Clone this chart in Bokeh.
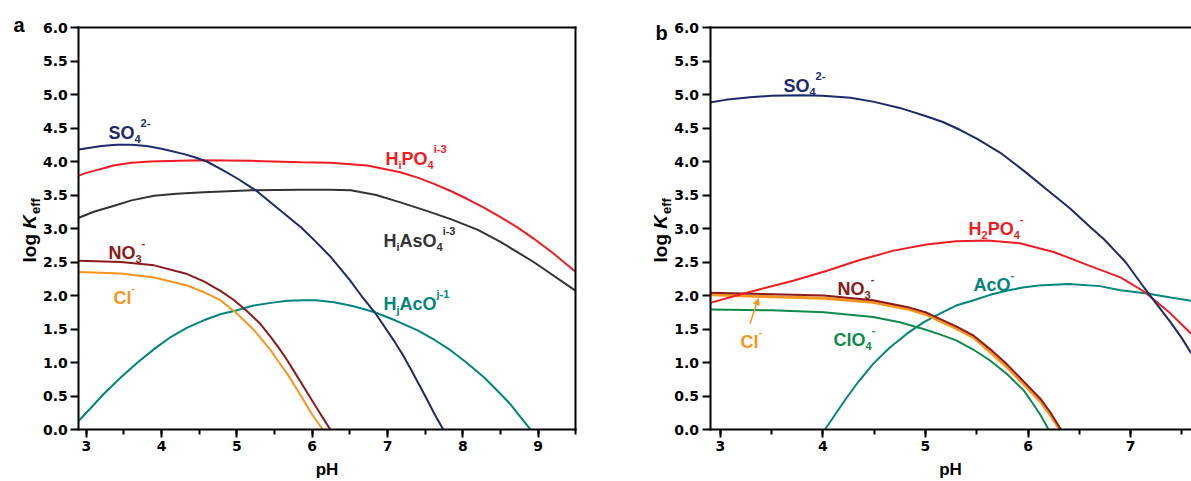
import math
from bokeh.plotting import figure
from bokeh.models import Range1d, Label, Arrow, NormalHead, FixedTicker, SingleIntervalTicker, PrintfTickFormatter, LinearAxis
from bokeh.layouts import row
from bokeh.embed import file_html
from bokeh.resources import INLINE

# ---------------- data: panel a ----------------
ph_so4_a = [2.9, 3.2, 3.4, 3.6, 3.8, 4.0, 4.3, 4.45, 4.6, 4.8, 5.0, 5.25, 5.5, 5.85, 6.05, 6.25, 6.5, 6.65, 6.83, 7.1, 7.2, 7.31, 7.5, 7.62, 7.74]
so4_a = [4.18, 4.23, 4.25, 4.25, 4.23, 4.19, 4.11, 4.06, 4.0, 3.88, 3.75, 3.57, 3.34, 3.02, 2.8, 2.57, 2.23, 2.0, 1.75, 1.3, 1.12, 0.9, 0.5, 0.24, 0.0]

ph_po4_a = [2.9, 3.0, 3.1, 3.23, 3.36, 3.6, 3.85, 4.5, 5.2, 5.85, 6.24, 6.73, 7.17, 7.4, 7.61, 7.84, 8.06, 8.28, 8.5, 8.72, 8.94, 9.2, 9.5]
po4_a = [3.79, 3.83, 3.86, 3.9, 3.94, 3.98, 4.0, 4.02, 4.01, 3.99, 3.98, 3.94, 3.84, 3.76, 3.67, 3.56, 3.44, 3.31, 3.17, 3.02, 2.85, 2.63, 2.35]

ph_aso4_a = [2.9, 3.1, 3.37, 3.6, 3.9, 4.2, 4.56, 5.2, 5.85, 6.24, 6.51, 6.85, 7.17, 7.5, 7.84, 8.2, 8.5, 8.94, 9.5]
aso4_a = [3.16, 3.25, 3.34, 3.42, 3.49, 3.52, 3.54, 3.57, 3.58, 3.58, 3.57, 3.5, 3.39, 3.27, 3.14, 2.98, 2.8, 2.5, 2.07]

ph_aco_a = [2.9, 3.05, 3.23, 3.45, 3.68, 3.9, 4.12, 4.34, 4.56, 4.78, 5.0, 5.22, 5.45, 5.67, 5.89, 6.05, 6.29, 6.55, 6.83, 7.1, 7.4, 7.62, 7.84, 8.06, 8.28, 8.45, 8.63, 8.77, 8.9]
aco_a = [0.13, 0.31, 0.53, 0.77, 1.0, 1.2, 1.38, 1.52, 1.63, 1.72, 1.78, 1.85, 1.89, 1.92, 1.93, 1.93, 1.9, 1.84, 1.75, 1.63, 1.48, 1.34, 1.18, 0.99, 0.78, 0.59, 0.38, 0.18, 0.0]

ph_no3_a = [2.9, 3.46, 3.9, 4.34, 4.56, 4.78, 4.95, 5.12, 5.3, 5.45, 5.56, 5.67, 5.78, 5.89, 6.0, 6.11, 6.24]
no3_a = [2.52, 2.5, 2.45, 2.32, 2.21, 2.07, 1.94, 1.78, 1.59, 1.38, 1.21, 1.03, 0.83, 0.63, 0.43, 0.23, 0.0]

ph_cl_a = [2.9, 3.46, 3.9, 4.34, 4.56, 4.78, 5.0, 5.12, 5.23, 5.34, 5.45, 5.56, 5.67, 5.78, 5.89, 6.0, 6.14]
cl_a = [2.35, 2.33, 2.27, 2.15, 2.05, 1.93, 1.73, 1.6, 1.48, 1.33, 1.18, 1.0, 0.83, 0.63, 0.43, 0.22, 0.0]

# ---------------- data: panel b ----------------
ph_so4_b = [2.9, 3.05, 3.29, 3.5, 3.78, 4.0, 4.27, 4.5, 4.75, 5.0, 5.17, 5.34, 5.5, 5.73, 5.96, 6.2, 6.41, 6.6, 6.74, 6.95, 7.13, 7.25, 7.39, 7.5, 7.59]
so4_b = [4.88, 4.92, 4.96, 4.98, 4.99, 4.98, 4.95, 4.89, 4.8, 4.68, 4.59, 4.47, 4.34, 4.13, 3.86, 3.56, 3.3, 3.03, 2.84, 2.5, 2.12, 1.88, 1.6, 1.36, 1.14]

ph_h2po4_b = [2.9, 3.23, 3.71, 4.04, 4.36, 4.69, 5.01, 5.3, 5.6, 5.92, 6.25, 6.57, 6.9, 7.13, 7.39, 7.59]
h2po4_b = [1.89, 2.03, 2.22, 2.37, 2.53, 2.67, 2.76, 2.81, 2.82, 2.78, 2.65, 2.46, 2.27, 2.06, 1.73, 1.43]

ph_aco_b = [4.02, 4.1, 4.23, 4.35, 4.49, 4.65, 4.82, 4.98, 5.14, 5.3, 5.47, 5.63, 5.79, 5.95, 6.1, 6.4, 6.7, 6.9, 7.16, 7.39, 7.59]
aco_b = [0.0, 0.18, 0.47, 0.72, 0.98, 1.22, 1.43, 1.6, 1.73, 1.85, 1.93, 2.01, 2.07, 2.12, 2.15, 2.17, 2.14, 2.08, 2.03, 1.97, 1.92]

ph_no3_b = [2.9, 3.52, 4.01, 4.49, 4.82, 5.0, 5.14, 5.3, 5.47, 5.63, 5.79, 5.95, 6.12, 6.22, 6.32]
no3_b = [2.04, 2.02, 2.0, 1.93, 1.83, 1.75, 1.65, 1.54, 1.4, 1.2, 0.98, 0.73, 0.46, 0.25, 0.0]

ph_cl_b = [2.9, 3.52, 4.01, 4.49, 4.82, 5.0, 5.14, 5.3, 5.47, 5.63, 5.79, 5.95, 6.12, 6.22, 6.31]
cl_b = [2.01, 1.98, 1.96, 1.9, 1.8, 1.72, 1.62, 1.51, 1.37, 1.16, 0.94, 0.69, 0.42, 0.21, 0.0]

ph_clo4_b = [2.9, 3.5, 4.01, 4.49, 4.75, 4.98, 5.14, 5.3, 5.47, 5.63, 5.8, 5.96, 6.05, 6.12, 6.2]
clo4_b = [1.79, 1.78, 1.75, 1.68, 1.6, 1.5, 1.42, 1.33, 1.19, 1.03, 0.82, 0.58, 0.38, 0.22, 0.0]

y_ticks = [0.0, 0.5, 1.0, 1.5, 2.0, 2.5, 3.0, 3.5, 4.0, 4.5, 5.0, 5.5, 6.0]

NAVY = "#1B2A6B"
RED = "#ED1C24"
GREY = "#333333"
TEAL = "#00857C"
DARKRED = "#8B1A1A"
ORANGE = "#F7941D"
GREEN = "#0E8A4A"

FONT = "Liberation Sans"
WID = {"H": 722, "S": 667, "O": 778, "P": 667, "A": 722, "N": 722, "C": 722, "K": 722,
       "s": 556, "c": 556, "l": 278, "i": 278, "j": 278, "o": 611, "g": 611, "e": 556,
       "f": 333, "p": 611, "-": 333, " ": 278}


def tw(t, fs):
    return sum(WID.get(ch, 556) for ch in t) * fs / 1000.0


PX_Y = 67.0  # pixels per y unit


def style_axis(ax, ticks=True):
    ax.axis_line_width = 2
    ax.axis_line_cap = "square"
    ax.major_tick_line_width = 2
    ax.minor_tick_line_width = 2
    ax.major_tick_in = 0
    ax.major_tick_out = 8
    ax.minor_tick_in = 0
    ax.minor_tick_out = 5
    ax.major_label_text_font = "DejaVu Sans"
    ax.major_label_text_font_style = "bold"
    ax.major_label_text_font_size = "14px"
    ax.major_label_text_color = "black"
    ax.major_label_standoff = 3
    if not ticks:
        ax.major_tick_line_color = None
        ax.minor_tick_line_color = None
        ax.major_label_text_font_size = "0px"


def make_fig(width, xr, xmin, xmax, right_edge):
    p = figure(width=width, height=481, output_backend="svg", toolbar_location=None,
               x_range=Range1d(*xr), y_range=Range1d(-0.776, 6.403),
               x_axis_location=None, y_axis_location=None, min_border=0)
    p.xgrid.visible = False
    p.ygrid.visible = False
    p.outline_line_color = None
    p.background_fill_color = "white"
    p.border_fill_color = "white"
    xa = LinearAxis(fixed_location=0, bounds=(xmin, xmax),
                    ticker=SingleIntervalTicker(interval=1, num_minor_ticks=2))
    style_axis(xa)
    p.add_layout(xa, "below")
    ya = LinearAxis(fixed_location=xmin, bounds=(0, 6),
                    ticker=FixedTicker(ticks=y_ticks, minor_ticks=[]),
                    formatter=PrintfTickFormatter(format="%.1f"))
    style_axis(ya)
    p.add_layout(ya, "left")
    ta = LinearAxis(fixed_location=6, bounds=(xmin, xmax), ticker=FixedTicker(ticks=[], minor_ticks=[]))
    style_axis(ta, ticks=False)
    p.add_layout(ta, "above")
    if right_edge:
        ra = LinearAxis(fixed_location=xmax, bounds=(0, 6), ticker=FixedTicker(ticks=[], minor_ticks=[]))
        style_axis(ra, ticks=False)
        p.add_layout(ra, "right")
    return p


def chem(p, x0, y0, segs, color, sx, size=18, small=11):
    dx = 0.0
    for txt, kind in segs:
        fs = size if kind == 0 else small
        dy = 0 if kind == 0 else (-6 if kind < 0 else 10)
        p.add_layout(Label(x=x0 + dx / sx, y=y0 + dy / PX_Y, text=txt, text_color=color,
                           text_font=FONT, text_font_style="bold", text_font_size=f"{fs}px",
                           text_align="left", text_baseline="alphabetic"))
        dx += tw(txt, fs)


def axis_texts(p, sx, ylab_x, ylab_y, ph_x, ph_y, letter, let_x, let_y):
    fs = 19
    dy = 0.0
    p.add_layout(Label(x=ylab_x, y=ylab_y, text="log ", angle=math.pi / 2, text_font=FONT,
                       text_font_style="bold", text_font_size=f"{fs}px", text_color="black",
                       text_align="left", text_baseline="alphabetic"))
    dy += tw("log ", fs)
    p.add_layout(Label(x=ylab_x, y=ylab_y + dy / PX_Y, text="K", angle=math.pi / 2, text_font=FONT,
                       text_font_style="bold italic", text_font_size=f"{fs}px", text_color="black",
                       text_align="left", text_baseline="alphabetic"))
    dy += tw("K", fs) + 1
    p.add_layout(Label(x=ylab_x + 6 / sx, y=ylab_y + dy / PX_Y, text="eff", angle=math.pi / 2, text_font=FONT,
                       text_font_style="bold", text_font_size="13px", text_color="black",
                       text_align="left", text_baseline="alphabetic"))
    p.add_layout(Label(x=ph_x, y=ph_y, text="pH", text_font=FONT, text_font_style="bold",
                       text_font_size="17px", text_color="black", text_align="center",
                       text_baseline="alphabetic"))
    p.add_layout(Label(x=let_x, y=let_y, text=letter, text_font=FONT, text_font_style="bold",
                       text_font_size="20px", text_color="black", text_align="left",
                       text_baseline="alphabetic"))


# ---------------- panel a ----------------
SXA = 75.3
pa = make_fig(600, (2.9 - 78.3 / SXA, 2.9 + 521.7 / SXA), 2.9, 9.5, True)
pa.line(ph_aco_a, aco_a, line_color=TEAL, line_width=2)
pa.line(ph_cl_a, cl_a, line_color=ORANGE, line_width=2)
pa.line(ph_no3_a, no3_a, line_color=DARKRED, line_width=2)
pa.line(ph_aso4_a, aso4_a, line_color=GREY, line_width=2)
pa.line(ph_po4_a, po4_a, line_color=RED, line_width=2)
pa.line(ph_so4_a, so4_a, line_color=NAVY, line_width=2)

chem(pa, 3.294, 4.43, [("SO", 0), ("4", -1), ("2-", 1)], NAVY, SXA)
chem(pa, 6.973, 4.04, [("H", 0), ("i", -1), ("PO", 0), ("4", -1), ("i-3", 1)], RED, SXA)
chem(pa, 6.946, 2.82, [("H", 0), ("i", -1), ("AsO", 0), ("4", -1), ("i-3", 1)], GREY, SXA)
chem(pa, 6.946, 1.88, [("H", 0), ("j", -1), ("AcO", 0), ("j-1", 1)], TEAL, SXA)
chem(pa, 3.294, 2.64, [("NO", 0), ("3", -1), ("-", 1)], DARKRED, SXA)
chem(pa, 3.36, 1.97, [("Cl", 0), ("-", 1)], ORANGE, SXA)
axis_texts(pa, SXA, 2.9 + (29 - 78.3) / SXA, (429 - 262) / PX_Y, 6.196, (429 - 469) / PX_Y,
           "a", 2.9 + (13 - 78.3) / SXA, 6.03)

# ---------------- panel b ----------------
SXB = 102.6
pb = make_fig(591, (2.9 - 109.5 / SXB, 2.9 + 481.5 / SXB), 2.9, 2.9 + 482 / SXB, False)
pb.line(ph_aco_b, aco_b, line_color=TEAL, line_width=2)
pb.line(ph_clo4_b, clo4_b, line_color=GREEN, line_width=2)
pb.line(ph_cl_b, cl_b, line_color=ORANGE, line_width=3)
pb.line(ph_no3_b, no3_b, line_color=DARKRED, line_width=2)
pb.line(ph_h2po4_b, h2po4_b, line_color=RED, line_width=2)
pb.line(ph_so4_b, so4_b, line_color=NAVY, line_width=2)

chem(pb, 3.616, 5.13, [("SO", 0), ("4", -1), ("2-", 1)], NAVY, SXB)
chem(pb, 5.42, 3.0, [("H", 0), ("2", -1), ("PO", 0), ("4", -1), ("-", 1)], RED, SXB)
chem(pb, 5.468, 2.15, [("AcO", 0), ("-", 1)], TEAL, SXB)
chem(pb, 4.143, 2.1, [("NO", 0), ("3", -1), ("-", 1)], DARKRED, SXB)
chem(pb, 3.197, 1.3, [("Cl", 0), ("-", 1)], ORANGE, SXB)
chem(pb, 4.104, 1.33, [("ClO", 0), ("4", -1), ("-", 1)], GREEN, SXB)
pb.add_layout(Arrow(end=NormalHead(size=6, fill_color=ORANGE, line_color=ORANGE),
                    x_start=3.29, y_start=1.58, x_end=3.37, y_end=1.955,
                    line_color=ORANGE, line_width=1.5))
axis_texts(pb, SXB, 2.9 + (660 - 709.5) / SXB, (429 - 262) / PX_Y, 5.244, (429 - 469) / PX_Y,
           "b", 2.9 + (655 - 709.5) / SXB, 5.925)

layout = row(pa, pb)
open("out.html", "w").write(file_html(layout, INLINE))
